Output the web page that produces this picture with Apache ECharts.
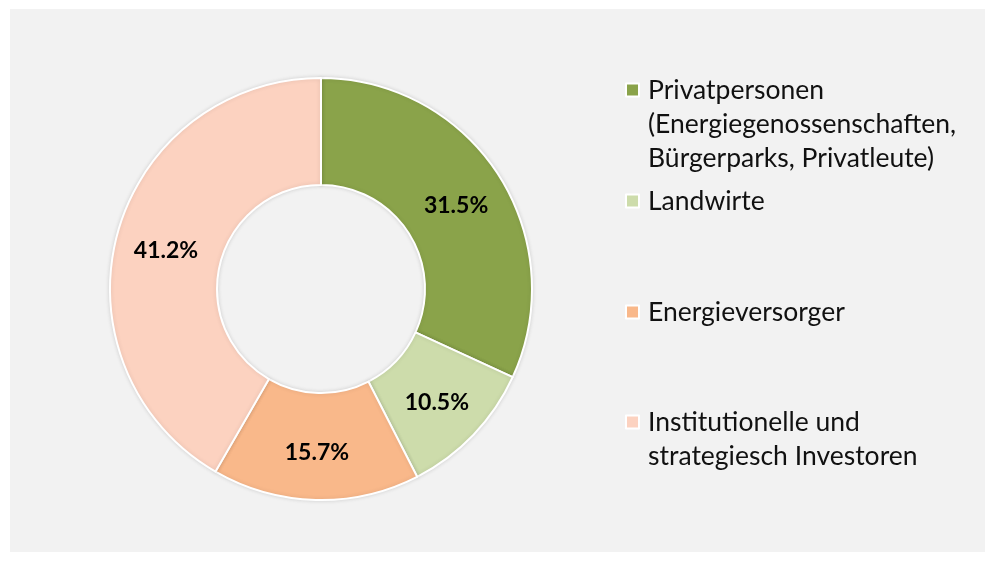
<!DOCTYPE html>
<html>
<head>
<meta charset="utf-8">
<script src="https://cdn.jsdelivr.net/npm/echarts@6/dist/echarts.min.js"></script>
<style>
    html, body { margin: 0; padding: 0; background: #ffffff; }
    #donut { width: 992px; height: 562px; }
</style>
</head>
<body>
<div id="donut"></div>
<script>
    // Anteile der Investorengruppen (Prozent)
    const categories = [
        "Privatpersonen\n(Energiegenossenschaften,\nBürgerparks, Privatleute)",
        "Landwirte",
        "Energieversorger",
        "Institutionelle und\nstrategiesch Investoren"
    ];
    const shares = [31.5, 10.5, 15.7, 41.2];
    const colors = ["#8aa34a", "#cddcab", "#f9b88a", "#fcd2c0"];

    // y of the first text line of every legend entry
    const legendFirstLine = [90, 201, 312, 422];
    const lineH = 34;

    const chart = echarts.init(document.getElementById("donut"));

    // the icon is centred on the text block, so blank lines are put in front
    // to keep it level with the first line
    const legends = categories.map((name, i) => {
        const extra = name.split("\n").length - 1;
        return {
            data: [name],
            orient: "vertical",
            left: 625,
            top: legendFirstLine[i] - lineH / 2 - extra * lineH,
            padding: 0,
            icon: "rect",
            itemWidth: 13,
            itemHeight: 13,
            selectedMode: false,
            formatter: n => "\n".repeat(extra) + n,
            textStyle: {
                fontFamily: "Lato",
                fontSize: 26.5,
                lineHeight: lineH,
                color: "#111111",
                padding: [0, 0, 0, 4]
            }
        };
    });

    chart.setOption({
        animation: false,
        backgroundColor: "#ffffff",
        color: colors,
        graphic: [{
            type: "rect",
            left: 10,
            top: 9,
            shape: { width: 975, height: 543 },
            style: { fill: "#f2f2f2" },
            silent: true,
            z: -10
        }],
        legend: legends,
        series: [{
            type: "pie",
            center: [321, 289],
            radius: [104, 211],
            startAngle: 90,
            clockwise: true,
            avoidLabelOverlap: false,
            itemStyle: {
                borderColor: "#ffffff",
                borderWidth: 2,
                shadowColor: "rgba(0,0,0,0.12)",
                shadowBlur: 4
            },
            label: {
                show: true,
                position: "inside",
                offset: [0, 3],
                formatter: p => p.value.toFixed(1) + "%",
                fontFamily: "Lato",
                fontWeight: "bold",
                fontSize: 23,
                color: "#000000"
            },
            labelLine: { show: false },
            emphasis: { disabled: true },
            data: categories.map((name, i) => ({ name: name, value: shares[i] }))
        }]
    });
</script>
</body>
</html>
